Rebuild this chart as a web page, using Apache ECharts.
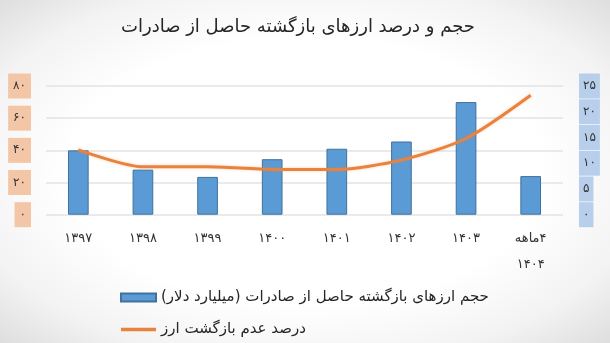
<!DOCTYPE html>
<html>
<head>
<meta charset="utf-8">
<script src="https://cdn.jsdelivr.net/npm/echarts@6/dist/echarts.min.js"></script>
<style>
html,body{margin:0;padding:0;width:610px;height:343px;overflow:hidden;}
body{background:radial-gradient(ellipse at 50% 50%, #ffffff 55%, #f3f3f3 80%, #dedede 100%);}
#c{width:610px;height:343px;}
</style>
</head>
<body>
<div id="c" dir="rtl"></div>
<script>
const categories = ['۱۳۹۷','۱۳۹۸','۱۳۹۹','۱۴۰۰','۱۴۰۱','۱۴۰۲','۱۴۰۳','۴ماهه\n۱۴۰۴'];
const returnedVolume = [40, 28, 23.5, 34.5, 41, 45.5, 70, 24];
const nonReturnPct = [12.6, 9.3, 9.3, 8.8, 8.8, 10.6, 14.8, 23.2];
const leftTicks = ['۰','۲۰','۴۰','۶۰','۸۰'];
const rightTicks = ['۰','۵','۱۰','۱۵','۲۰','۲۵'];
const titleText = 'حجم و درصد ارزهای بازگشته حاصل از صادرات';
const barName = 'حجم ارزهای بازگشته حاصل از صادرات (میلیارد دلار)\u200F';
const lineName = 'درصد عدم بازگشت ارز';

const font = '"DejaVu Sans", sans-serif';
const chart = echarts.init(document.getElementById('c'), null, {renderer:'canvas'});
chart.setOption({
  backgroundColor: 'transparent',
  animation: false,
  textStyle: {fontFamily: font},
  title: {
    text: titleText, left: 116, top: 13,
    textStyle: {fontSize: 18, fontWeight: 'normal', color: '#262626', fontFamily: font}
  },
  grid: {left: 46, right: 47, top: 86, bottom: 128.3},
  legend: {
    orient: 'vertical', left: 120, top: 290, itemGap: 17, padding: 0,
    itemWidth: 35, itemHeight: 8,
    textStyle: {fontSize: 15, color: '#262626', fontFamily: font},
    data: [
      {name: barName, icon: 'rect'},
      {name: lineName, icon: 'path://M0,0 L32,0 L32,3 L0,3 Z', itemStyle: {color: '#e8823f'}}
    ]
  },
  xAxis: {
    type: 'category', data: categories,
    axisLine: {show: false}, axisTick: {show: false},
    axisLabel: {fontSize: 13, color: '#333', margin: 11, lineHeight: 26, fontFamily: font}
  },
  yAxis: [
    {
      type: 'value', min: 0, max: 80, interval: 20,
      splitLine: {lineStyle: {color: '#e3e3e3', width: 1.5}},
      axisLine: {show: false}, axisTick: {show: false},
      axisLabel: {
        formatter: v => leftTicks[Math.round(v / 20)],
        fontSize: 12, color: '#333', margin: 15, fontFamily: font,
        backgroundColor: '#f3c6a8', padding: [6, 5, 6, 5], lineHeight: 13,
        showMinLabel: true, showMaxLabel: true, hideOverlap: false
      }
    },
    {
      type: 'value', min: 0, max: 25, interval: 5,
      splitLine: {show: false},
      axisLine: {show: false}, axisTick: {show: false},
      axisLabel: {
        formatter: v => rightTicks[Math.round(v / 5)],
        fontSize: 12, color: '#333', margin: 16, fontFamily: font,
        backgroundColor: '#b7cfea', padding: [6, 4, 6, 4], lineHeight: 13,
        showMinLabel: true, showMaxLabel: true, hideOverlap: false
      }
    }
  ],
  series: [
    {
      name: barName, type: 'bar', yAxisIndex: 0, data: returnedVolume,
      barWidth: '32%',
      itemStyle: {color: '#5b9bd5', borderColor: '#41719c', borderWidth: 1}
    },
    {
      name: lineName, type: 'line', yAxisIndex: 1, data: nonReturnPct,
      smooth: 0.25, symbol: 'none',
      lineStyle: {color: '#e8823f', width: 3, shadowColor: 'rgba(237,125,49,0.35)', shadowBlur: 3},
      itemStyle: {color: '#e8823f'}
    }
  ]
});
</script>
</body>
</html>
